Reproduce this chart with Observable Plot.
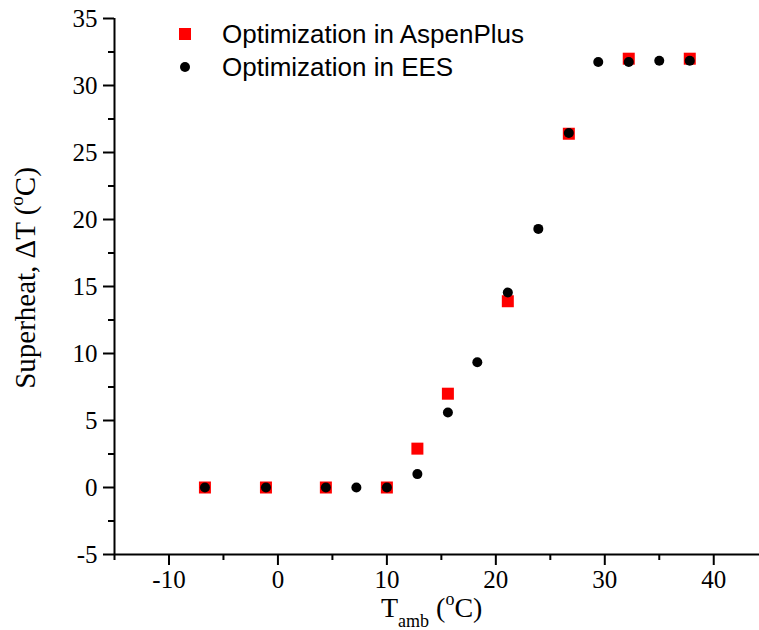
<!DOCTYPE html>
<html><head><meta charset="utf-8">
<script src="https://cdn.jsdelivr.net/npm/d3@7"></script>
<script src="https://cdn.jsdelivr.net/npm/@observablehq/plot@0.6"></script>
<style>body{margin:0;background:#fff} #chart{width:759px;height:630px}</style>
</head><body><div id="chart"></div>
<script>
// AspenPlus optimization (red squares)
const aspenT  = [-6.7, -1.1, 4.4, 10.0, 12.8, 15.6, 21.1, 26.7, 32.2, 37.8];
const aspenDT = [0, 0, 0, 0, 2.9, 7.0, 13.9, 26.4, 32.0, 32.0];
// EES optimization (black circles)
const eesT  = [-6.7, -1.1, 4.4, 7.2, 10.0, 12.8, 15.6, 18.3, 21.1, 23.9, 26.7, 29.4, 32.2, 35.0, 37.8];
const eesDT = [0, 0, 0, 0, 0, 1.0, 5.6, 9.35, 14.55, 19.3, 26.45, 31.75, 31.75, 31.85, 31.85];

const seriesNames = ["Optimization in AspenPlus", "Optimization in EES"];
const xDomain = [-15, 44.2];
const yDomain = [-5, 35];
const xMajorTicks = [-10, 0, 10, 20, 30, 40];
const xMinorTicks = [-15, -5, 5, 15, 25, 35];
const yMajorTicks = [-5, 0, 5, 10, 15, 20, 25, 30, 35];
const yMinorTicks = [-2.5, 2.5, 7.5, 12.5, 17.5, 22.5, 27.5, 32.5];

const aspen = aspenT.map((t, i) => ({t, dt: aspenDT[i]}));
const ees = eesT.map((t, i) => ({t, dt: eesDT[i]}));

const serif = "'Liberation Serif', 'Times New Roman', serif";
const sans = "'Liberation Sans', Arial, sans-serif";

const plot = Plot.plot({
  width: 759, height: 630,
  marginLeft: 114, marginRight: 0, marginTop: 18, marginBottom: 76,
  style: {fontFamily: serif, fontSize: "25px", background: "#fff", color: "#000"},
  x: {domain: xDomain},
  y: {domain: yDomain},
  marks: [
    Plot.axisX({ticks: xMajorTicks, tickSize: 11, tickPadding: 5, strokeWidth: 2, fontSize: 25, label: null, tickFormat: d => d}),
    Plot.axisX({ticks: xMinorTicks, tickSize: 6, strokeWidth: 2, label: null, tickFormat: () => ""}),
    Plot.axisY({ticks: yMajorTicks, tickSize: 11, tickPadding: 6, strokeWidth: 2, fontSize: 25, label: null, tickFormat: d => d}),
    Plot.axisY({ticks: yMinorTicks, tickSize: 6, strokeWidth: 2, label: null, tickFormat: () => ""}),
    Plot.ruleX([xDomain[0]], {y1: yDomain[0], y2: yDomain[1], strokeWidth: 2}),
    Plot.ruleY([yDomain[0]], {x1: xDomain[0], x2: xDomain[1], strokeWidth: 2}),
    Plot.dot(aspen, {x: "t", y: "dt", symbol: "square", r: 6.77, fill: "#ff0000", stroke: "none"}),
    Plot.dot(ees, {x: "t", y: "dt", symbol: "circle", r: 5, fill: "#000", stroke: "none"})
  ]
});
document.getElementById("chart").appendChild(plot);

const svg = d3.select(plot);
// Y axis title
const yl = svg.append("text")
  .attr("transform", "translate(35,278) rotate(-90)")
  .attr("text-anchor", "middle")
  .style("font-family", serif).style("font-size", "29px").attr("fill", "#000");
yl.append("tspan").text("Superheat, ΔT (");
yl.append("tspan").attr("dy", -12).style("font-size", "19px").text("o");
yl.append("tspan").attr("dy", 12).text("C)");

// X axis title
const xl = svg.append("text")
  .attr("x", 381).attr("y", 617)
  .attr("text-anchor", "start")
  .style("font-family", serif).style("font-size", "28px").attr("fill", "#000");
xl.append("tspan").text("T");
xl.append("tspan").attr("dy", 10).style("font-size", "18px").text("amb");
xl.append("tspan").attr("dy", -10).text(" (");
xl.append("tspan").attr("dy", -12).style("font-size", "18px").text("o");
xl.append("tspan").attr("dy", 12).text("C)");

// Legend
const lg = svg.append("g").attr("text-anchor", "start");
lg.append("rect").attr("x", 179).attr("y", 28).attr("width", 12).attr("height", 12).attr("fill", "#ff0000");
lg.append("circle").attr("cx", 185).attr("cy", 67).attr("r", 5).attr("fill", "#000");
seriesNames.forEach((name, i) => {
  lg.append("text").attr("x", 222).attr("y", 43 + i * 33)
    .attr("text-anchor", "start")
    .style("font-family", sans).style("font-size", "26px").attr("fill", "#000").text(name);
});
</script></body></html>
